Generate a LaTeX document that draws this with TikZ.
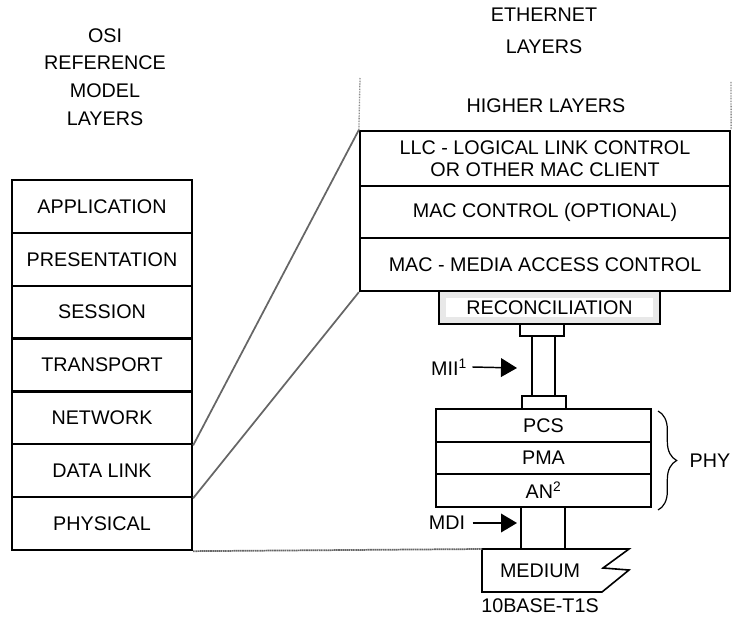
\documentclass[tikz,border=0pt]{standalone}
\usepackage{fontspec}
\setmainfont{Liberation Sans}
\usetikzlibrary{arrows.meta,decorations.pathreplacing}

\newcommand{\layerfont}{\fontsize{14.8pt}{16.5pt}\selectfont}
\tikzset{every picture/.style={line width=0.75pt}}
\tikzset{
  layerbox/.style={draw, line width=1.7pt, inner sep=0pt, align=center, font=\layerfont},
  osibox/.style={layerbox, minimum width=135pt, minimum height=39.64pt},
  ethbox/.style={layerbox, minimum width=277.5pt},
  phybox/.style={layerbox, minimum width=161.25pt, minimum height=24.5pt},
  plugbox/.style={draw, line width=1.6pt, inner sep=0pt},
  slantline/.style={draw=black!60, line width=1.3pt},
  dotline/.style={draw=black!45, line width=1pt, dash pattern={on 0.6pt off 0.6pt}},
  ptr/.style={line width=1.1pt, -{Triangle[length=12pt,width=14pt]}},
  label/.style={font=\layerfont, inner sep=0.75pt}
}

\begin{document}
\begin{tikzpicture}[x=0.75pt,y=0.75pt,yscale=-1,xscale=1]
\useasboundingbox (0,0) rectangle (737,616);

% Text Node
\node [label, align=center, font={\fontsize{14.8pt}{20.8pt}\selectfont}] (osititle) at (105,77) {OSI\\REFERENCE\\MODEL\\LAYERS};
% Text Node
\node [label, align=center, font={\fontsize{14.8pt}{24pt}\selectfont}] (ethtitle) at (544,31) {ETHERNET\\LAYERS};
% Text Node
\node [label] (higher) at (546,106) {HIGHER LAYERS};

%Shape: OSI stack
\node [osibox] (app) at (102,206.4) {APPLICATION};
\node [osibox] (pres) at (102,259.3) {PRESENTATION};
\node [osibox] (sess) at (102,312.1) {SESSION};
\node [osibox] (trans) at (102,365) {TRANSPORT};
\node [osibox] (net) at (102,417.8) {NETWORK};
\node [osibox] (dl) at (102,470.7) {DATA LINK};
\node [osibox] (phys) at (102,523.6) {PHYSICAL};

%Shape: Ethernet upper layers
\node [ethbox, minimum height=41.25pt] (llc) at (545,158.5) {LLC - LOGICAL LINK CONTROL\\OR OTHER MAC CLIENT};
\node [ethbox, minimum height=39pt] (macc) at (545,212) {MAC CONTROL (OPTIONAL)};
\node [ethbox, minimum height=39.75pt] (mac) at (545,264.5) {MAC - MEDIA ACCESS CONTROL};

%Shape: Reconciliation
\node [layerbox, fill=white, minimum width=165.75pt, minimum height=24.75pt,
  path picture={\draw[black!9, line width=11pt] (path picture bounding box.south west) rectangle (path picture bounding box.north east);}]
  (rec) at (549.5,307.5) {RECONCILIATION};

%Shape: MII plug
\node [plugbox, minimum width=33pt, minimum height=9pt] (miitop) at (542,330) {};
\node [plugbox, minimum width=17.25pt, minimum height=45pt] (miibar) at (543.5,366) {};
\node [plugbox, minimum width=33pt, minimum height=9.75pt] (miibot) at (544,402.5) {};

%Shape: PHY stack
\node [phybox] (pcs) at (543.5,425.3) {PCS};
\node [phybox] (pma) at (543.5,458) {PMA};
\node [phybox] (an) at (543.5,490.6) {AN\textsuperscript{2}};

%Shape: MDI plug
\node [plugbox, minimum width=33pt, minimum height=31.5pt] (mdi) at (543,528) {};

%Shape: Medium
\coordinate (medtl) at (482,549);
\draw [line width=1.2pt] (medtl) -- (629,549) -- (603,568) -- (629,570) -- (602,592) -- (482,592) -- cycle;
% Text Node
\node [label] (medium) at (540,571) {MEDIUM};
% Text Node
\node [label] (t1s) at (540,606) {10BASE-T1S};

% slanted lines
\draw [slantline] (net.south east) -- (llc.north west);
\draw [slantline] (dl.south east) -- (mac.south west);
\draw [slantline, dash pattern={on 1.2pt off 0.4pt}] (phys.south east) -- (medtl);

% dotted limits of higher layers
\coordinate (hlleft) at (360,78);
\coordinate (hlright) at (731,82);
\draw [dotline] (hlleft) -- (llc.north west);
\draw [dotline] (hlright) -- (llc.north east);

% MII and MDI pointers
\node [label] (mii) at (449,367) {MII\textsuperscript{1}};
\coordinate (miitip) at (517,368);
\draw [ptr] (mii.east) ++(4,0) -- (miitip);
\node [label] (mdilbl) at (447,523) {MDI};
\coordinate (mditip) at (517,523);
\draw [ptr] (mdilbl.east) ++(6,0) -- (mditip);

% PHY brace
\draw [line width=0.9pt, decorate, decoration={brace, amplitude=14pt}] (658,411) -- (658,510);
% Text Node
\node [label] (phy) at (710,461) {PHY};

\end{tikzpicture}
\end{document}
